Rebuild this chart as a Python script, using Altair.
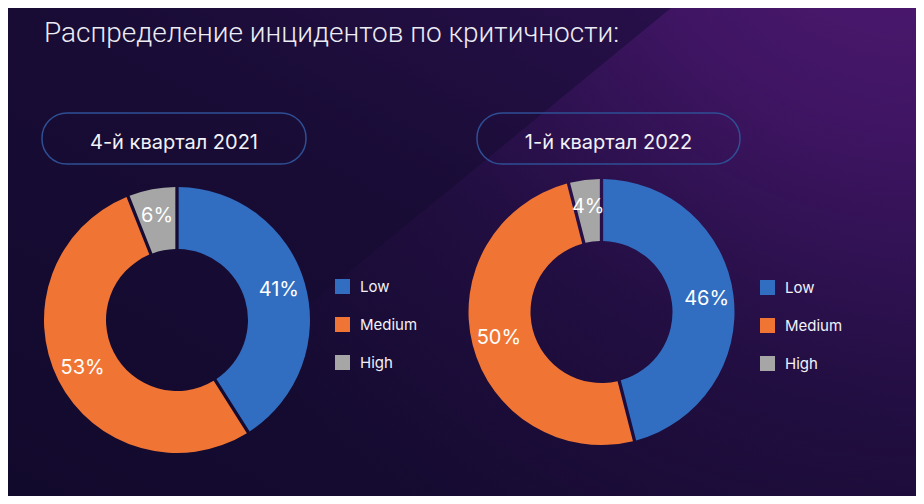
import altair as alt
import pandas as pd

# ---------------- data ----------------
title_text = "Распределение инцидентов по критичности:"
quarters = ["4-й квартал 2021", "1-й квартал 2022"]
categories = ["Low", "Medium", "High"]
q4_2021 = [41, 53, 6]
q1_2022 = [46, 50, 4]
colors = ["#316ec1", "#f07535", "#a6a6a6"]

W, H = 908, 488
one = pd.DataFrame({"d": [0]})


def frame(vals):
    return pd.DataFrame({
        "category": categories,
        "value": vals,
        "idx": list(range(len(categories))),
        "label": [f"{v}%" for v in vals],
    })


# ---------------- background ----------------
bg = alt.Chart(one).mark_rect(
    fill=alt.LinearGradient(
        gradient="linear",
        stops=[
            alt.GradientStop(color="#120a2d", offset=0),
            alt.GradientStop(color="#190c36", offset=0.55),
            alt.GradientStop(color="#2e1152", offset=1),
        ],
        x1=0, y1=1, x2=1, y2=0,
    )
).encode(x=alt.value(0), x2=alt.value(W), y=alt.value(0), y2=alt.value(H))

glow_path = "M0.4167,-0.581 L1,-0.581 L1,0.581 L-1,0.581 Z"
glow = alt.Chart(one).mark_point(
    shape=glow_path,
    filled=True,
    opacity=1,
    strokeWidth=0,
    size=840 * 840,
    fill=alt.RadialGradient(
        gradient="radial",
        stops=[
            alt.GradientStop(color="rgba(86,26,120,1)", offset=0),
            alt.GradientStop(color="rgba(68,22,104,0.85)", offset=0.35),
            alt.GradientStop(color="rgba(50,18,86,0.4)", offset=0.65),
            alt.GradientStop(color="rgba(40,15,70,0)", offset=1),
        ],
        x1=1, y1=0, r1=0, x2=1, y2=0, r2=1.0,
    ),
).encode(x=alt.value(488), y=alt.value(244))

# ---------------- title ----------------
title = alt.Chart(pd.DataFrame({"t": [title_text]})).mark_text(
    align="left", baseline="alphabetic", font="Roboto", fontWeight=300,
    fontSize=28, color="#ececf4",
).encode(text="t:N", x=alt.value(36), y=alt.value(34))


# ---------------- quarter boxes ----------------
def box(x1, x2, label, cx):
    rect = alt.Chart(one).mark_rect(
        cornerRadius=25, fillOpacity=0, stroke="#2f4f95", strokeWidth=1.5
    ).encode(x=alt.value(x1), x2=alt.value(x2), y=alt.value(105), y2=alt.value(156))
    txt = alt.Chart(pd.DataFrame({"q": [label]})).mark_text(
        align="center", baseline="alphabetic", font="Inter", fontSize=20,
        color="#f2f2f8",
    ).encode(text="q:N", x=alt.value(cx), y=alt.value(141))
    return [rect, txt]


# ---------------- donuts ----------------
def donut(vals, cx, cy, lx, ly):
    base = alt.Chart(frame(vals))
    arc = base.mark_arc(
        radius=133, radius2=71, padAngle=0.022
    ).encode(
        theta=alt.Theta("value:Q", stack=True),
        order=alt.Order("idx:Q"),
        color=alt.Color(
            "category:N",
            scale=alt.Scale(domain=categories, range=colors),
            legend=alt.Legend(
                orient="none", legendX=lx, legendY=ly, title=None,
                direction="vertical", symbolType="square", symbolSize=225,
                symbolStrokeWidth=0, symbolOpacity=1, labelColor="#f2f2f8",
                labelFont="Inter", labelFontSize=15, labelOffset=10,
                rowPadding=22, padding=0,
            ),
        ),
        x=alt.value(cx), y=alt.value(cy),
    )
    txt = base.mark_text(
        radius=106, font="Inter", fontSize=20, color="#ffffff",
        align="center", baseline="middle",
    ).encode(
        theta=alt.Theta("value:Q", stack=True),
        order=alt.Order("idx:Q"),
        text="label:N",
        x=alt.value(cx), y=alt.value(cy),
    )
    return [arc, txt]


layers = [bg, glow, title]
layers += box(34, 298, quarters[0], 166)
layers += box(469, 732, quarters[1], 600.5)
layers += donut(q4_2021, 169, 312, 327, 271)
layers += donut(q1_2022, 593.5, 304, 752, 272)

chart = alt.layer(*layers).resolve_scale(color="independent").properties(
    width=W, height=H, padding=0, autosize="none", background="#160b32"
).configure_view(stroke=None)

chart.save("out.html", embed_options={"renderer": "svg", "actions": False})
